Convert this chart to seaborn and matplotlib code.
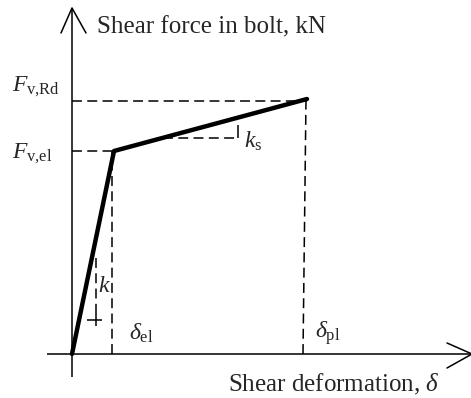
import matplotlib
matplotlib.use("Agg")
import matplotlib.pyplot as plt
import seaborn as sns
import pandas as pd

# ---- data (schematic units) ----
deformation = [0, 42, 235]      # origin, delta_el, delta_pl
force = [0, 203, 255]           # 0, F_v,el, F_v,Rd
delta_el, delta_pl = 40, 231
F_el, F_Rd = 203, 253

y_title = "Shear force in bolt, kN"
x_title = r"Shear deformation, $\delta$"
lab_FRd = r"$F_{\mathrm{v{,}Rd}}$"
lab_Fel = r"$F_{\mathrm{v{,}el}}$"
lab_del = r"$\delta_{\mathrm{el}}$"
lab_dpl = r"$\delta_{\mathrm{pl}}$"
lab_k = r"$k$"
lab_ks = r"$k_{\mathrm{s}}$"

sns.set_style("white")
plt.rcParams['font.family'] = ['Liberation Serif', 'DejaVu Serif']
plt.rcParams['mathtext.fontset'] = 'custom'
plt.rcParams['mathtext.rm'] = 'Liberation Serif'
plt.rcParams['mathtext.it'] = 'Liberation Serif:italic'

fig = plt.figure(figsize=(4.71, 3.98), dpi=100)
ax = fig.add_axes([0, 0, 1, 1])
ax.set_xlim(-72, 399)
ax.set_ylim(-44, 354)
ax.axis('off')

k = dict(color='black', lw=1.1, solid_capstyle='butt')
dash = dict(color='black', lw=1.1, dashes=(6.5, 3.5))

# axes with open arrowheads
ax.plot([0, 0], [-23, 346], **k)
ax.plot([-11, 0, 14], [321, 346, 321], color='black', lw=1.1)
ax.plot([-25, 400], [0, 0], **k)
ax.plot([375, 400, 375], [11, 0, -14], color='black', lw=1.1)

# dashed guides
ax.plot([0, deformation[1]], [F_el, F_el], **dash)
ax.plot([0, deformation[2]], [F_Rd, F_Rd], **dash)
ax.plot([delta_el, delta_el], [0, F_el], **dash)
ax.plot([delta_pl, deformation[2] - 1], [0, force[2]], **dash)

# slope triangles
ax.plot([24, 24], [96, 42], **dash)
ax.plot([24, 24], [42, 28], **k)
ax.plot([15, 30], [34, 34], **k)
ax.plot([91, 166], [216, 216], **dash)
ax.plot([166, 166], [216, 229], **k)

# main bilinear curve
df = pd.DataFrame({"d": deformation, "F": force})
sns.lineplot(data=df, x="d", y="F", sort=False, color='black', lw=3.2, ax=ax)

# texts
ax.text(25, 321, y_title, fontsize=18, ha='left', va='baseline')
ax.text(368, -37, x_title, fontsize=18, ha='right', va='baseline')
ax.text(-60, 263, lab_FRd, fontsize=17, ha='left', va='baseline')
ax.text(-60, 196, lab_Fel, fontsize=17, ha='left', va='baseline')
ax.text(57, 14, lab_del, fontsize=17, ha='left', va='baseline')
ax.text(243, 16, lab_dpl, fontsize=17, ha='left', va='baseline')
ax.text(26, 62, lab_k, fontsize=17, ha='left', va='baseline')
ax.text(172, 206, lab_ks, fontsize=17, ha='left', va='baseline')

fig.savefig("out.png", dpi=100)
